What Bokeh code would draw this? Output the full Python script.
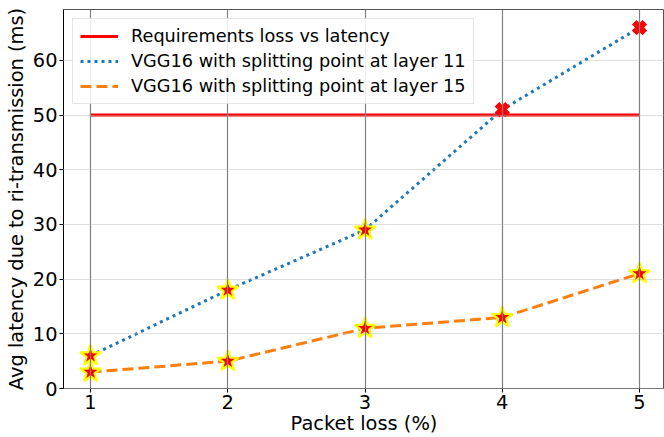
from bokeh.plotting import figure
from bokeh.models import Range1d, Legend, LegendItem, FixedTicker
from bokeh.embed import file_html
from bokeh.resources import INLINE

packet_loss = [1, 2, 3, 4, 5]
vgg16_layer11 = [6, 18, 29, 51, 66]
vgg16_layer15 = [3, 5, 11, 13, 21]
requirement_latency = 50
x_ticks = [1, 2, 3, 4, 5]
y_ticks = [0, 10, 20, 30, 40, 50, 60]

FONT = "DejaVu Sans"

p = figure(width=664, height=437, output_backend="svg", toolbar_location=None,
           x_range=Range1d(0.803, 5.182), y_range=Range1d(0, 69.3),
           min_border_left=63, min_border_right=0, min_border_top=9, min_border_bottom=49,
           background_fill_color="white", border_fill_color="white")

# requirement line
req = p.line([packet_loss[0], packet_loss[-1]], [requirement_latency, requirement_latency],
             line_color="#ff0000", line_width=3)
l11 = p.line(packet_loss, vgg16_layer11, line_color="#1f77b4", line_width=3, line_dash="3 4")
l15 = p.line(packet_loss, vgg16_layer15, line_color="#ff7f0e", line_width=3, line_dash="11 5")

def split(xs, ys):
    below = [(x, y) for x, y in zip(xs, ys) if y < requirement_latency]
    above = [(x, y) for x, y in zip(xs, ys) if y >= requirement_latency]
    return below, above

for series in (vgg16_layer11, vgg16_layer15):
    below, above = split(packet_loss, series)
    if below:
        p.scatter([b[0] for b in below], [b[1] for b in below], marker="star", size=22,
                  fill_color="#ff0000", line_color="#ffff00", line_width=2.2)
    if above:
        p.scatter([a[0] for a in above], [a[1] for a in above], marker="x", size=15,
                  line_color="#ff0000", line_width=6.5)

p.xaxis.ticker = FixedTicker(ticks=x_ticks)
p.yaxis.ticker = FixedTicker(ticks=y_ticks)
for ax in (p.xaxis[0], p.yaxis[0]):
    ax.major_label_text_font = FONT
    ax.major_label_text_font_size = "19.4px"
    ax.major_label_text_color = "black"
    ax.axis_label_text_font = FONT
    ax.axis_label_text_font_size = "19.4px"
    ax.axis_label_text_font_style = "normal"
    ax.axis_label_text_color = "black"
    ax.minor_tick_line_color = None
    ax.major_tick_in = 0
    ax.major_tick_out = 4
p.xaxis.axis_label = "Packet loss (%)"
p.yaxis.axis_label = "Avg latency due to ri-transmission (ms)"
p.xaxis.axis_line_color = "#777777"
p.yaxis.axis_line_color = "black"
p.xaxis.major_label_standoff = 2
p.yaxis.major_label_standoff = 2
p.xaxis.axis_label_standoff = 0
p.yaxis.axis_label_standoff = 2

p.xgrid.grid_line_color = "#808080"
p.xgrid.grid_line_width = 1.2
p.xgrid.level = "overlay"
p.ygrid.grid_line_color = "#b0b0b0"
p.ygrid.grid_line_width = 0.8
p.ygrid.grid_line_dash = "1 1"
p.ygrid.level = "overlay"

p.outline_line_color = "#555555"
p.outline_line_width = 1

legend = Legend(items=[
    LegendItem(label="Requirements loss vs latency", renderers=[req]),
    LegendItem(label="VGG16 with splitting point at layer 11", renderers=[l11]),
    LegendItem(label="VGG16 with splitting point at layer 15", renderers=[l15]),
], location="top_left")
legend.label_text_font = FONT
legend.label_text_font_size = "17.7px"
legend.label_text_color = "black"
legend.glyph_width = 38
legend.glyph_height = 20
legend.label_standoff = 13
legend.spacing = 5
legend.padding = 7
legend.margin = 9
legend.border_line_color = "#cccccc"
legend.border_line_width = 1
legend.background_fill_alpha = 0.85
p.add_layout(legend)

open("out.html", "w").write(file_html(p, INLINE))
